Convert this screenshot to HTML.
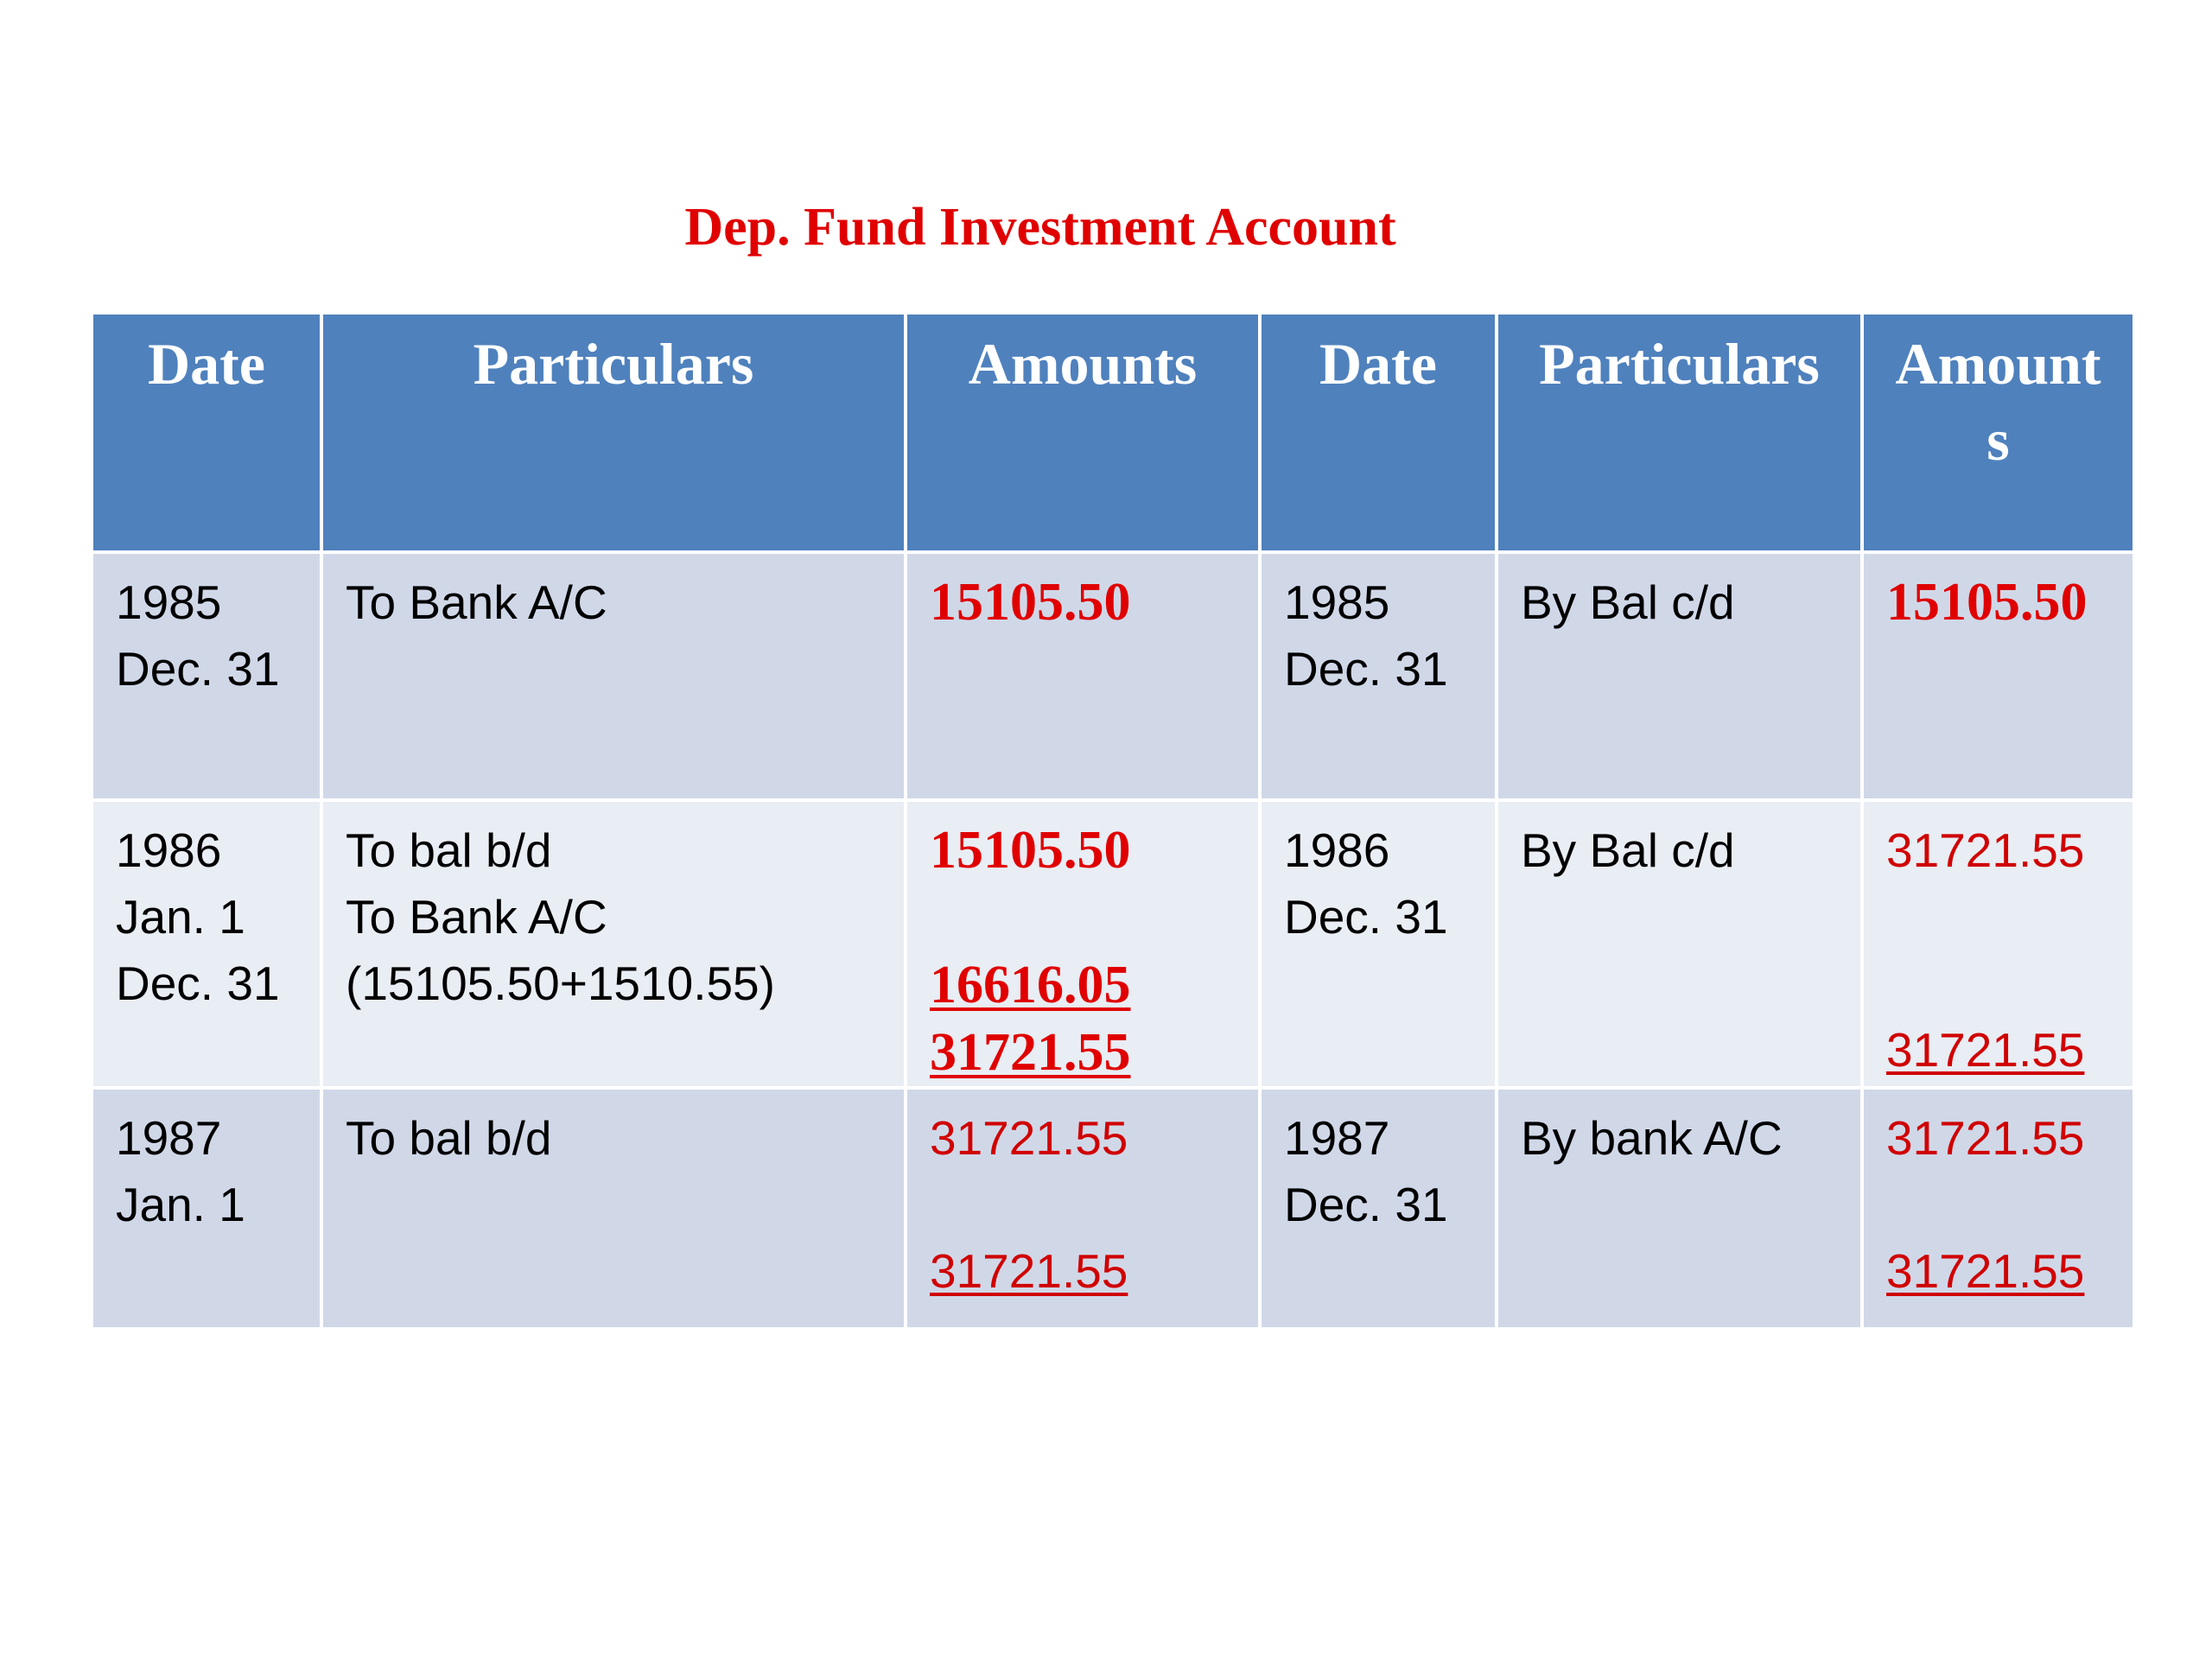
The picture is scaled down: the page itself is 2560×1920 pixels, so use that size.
<!DOCTYPE html>
<html><head><meta charset="utf-8"><style>
body{margin:0;width:2560px;height:1920px;background:#fff;position:relative;overflow:hidden}
.t{position:absolute;left:780px;top:228px;width:848px;text-align:center;font:bold 62px "Liberation Serif",serif;color:#e00000;white-space:nowrap}
.c{position:absolute;box-sizing:border-box;padding-left:26px;overflow:hidden}
.h{background:#4f81bd;color:#fff;font:bold 68px/88px "Liberation Serif",serif;text-align:center;padding:13px 0 0 0}
.r1,.r3{background:#d0d8e8}
.r2{background:#e9edf4}
.b{font:55px/77px "Liberation Sans",sans-serif;color:#000;padding-top:18px;white-space:nowrap}
.red{color:#d00000}
.bs{font:bold 62px/77px "Liberation Serif",serif;color:#e00000}
u{text-decoration-thickness:4px;text-underline-offset:6px}
</style></head><body>
<div class="t">Dep. Fund Investment Account</div>
<div id="g"></div>
<script>
const cols=[108,374,1050,1460,1734,2157,2472];
const rows=[364,641,928,1261,1540];
const header=["Date","Particulars","Amounts","Date","Particulars","Amount<br>s"];
const cells=[
["1985<br>Dec. 31","To Bank A/C",'<span class="bs">15105.50</span>',"1985<br>Dec. 31","By Bal c/d",'<span class="bs">15105.50</span>'],
["1986<br>Jan. 1<br>Dec. 31","To bal b/d<br>To Bank A/C<br>(15105.50+1510.55)",'<span class="bs">15105.50<br>&nbsp;<br><u>16616.05</u><br><u>31721.55</u></span>',"1986<br>Dec. 31","By Bal c/d",'<span class="red">31721.55<br>&nbsp;<br>&nbsp;<br><u>31721.55</u></span>'],
["1987<br>Jan. 1","To bal b/d",'<span class="red">31721.55<br>&nbsp;<br><u>31721.55</u></span>',"1987<br>Dec. 31","By bank A/C",'<span class="red">31721.55<br>&nbsp;<br><u>31721.55</u></span>']
];
const g=document.getElementById('g');
for(let r=0;r<4;r++)for(let c=0;c<6;c++){
 const d=document.createElement('div');
 d.className='c '+(r==0?'h':'b r'+r);
 d.style.left=cols[c]+'px';d.style.top=rows[r]+'px';
 d.style.width=(cols[c+1]-cols[c]-4)+'px';d.style.height=(rows[r+1]-rows[r]-4)+'px';
 d.innerHTML=r==0?header[c]:cells[r-1][c];
 
 
 g.appendChild(d);
}
</script>
</body></html>
